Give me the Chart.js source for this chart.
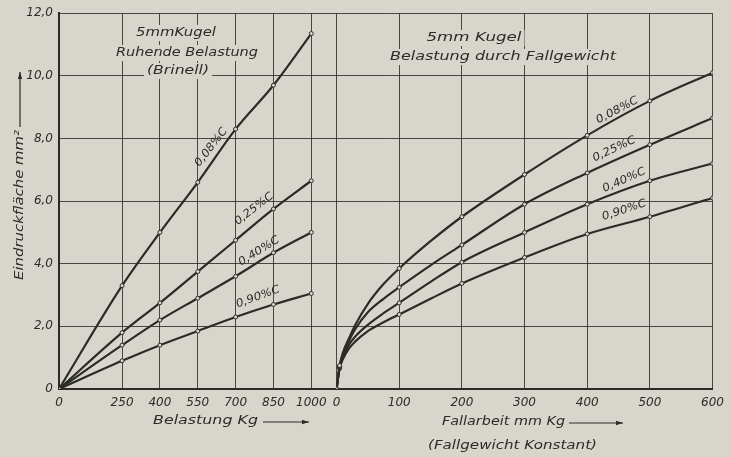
<!DOCTYPE html>
<html>
<head>
<meta charset="utf-8">
<script src="https://cdn.jsdelivr.net/npm/chart.js@4.4.1/dist/chart.umd.min.js"></script>
<style>
  html, body { margin: 0; padding: 0; background: #d8d6cc; }
  #wrap { width: 731px; height: 457px; position: relative; }
</style>
</head>
<body>
<div id="wrap"><canvas id="c" width="731" height="457"></canvas></div>
<script>
// Ruhende Belastung (Brinell): Belastung in kg
const staticLoad = [0, 250, 400, 550, 700, 850, 1000];
const static008 = [0, 3.3, 5.0, 6.6, 8.3, 9.7, 11.35];
const static025 = [0, 1.8, 2.75, 3.75, 4.75, 5.75, 6.65];
const static040 = [0, 1.4, 2.2, 2.9, 3.6, 4.35, 5.0];
const static090 = [0, 0.9, 1.4, 1.85, 2.3, 2.7, 3.05];

// Belastung durch Fallgewicht: Fallarbeit in mmKg
const dropWork = [0, 5, 10, 20, 30, 50, 75, 100, 150, 200, 300, 400, 500, 600];
const drop008 = [0, 0.75, 1.15, 1.62, 2.05, 2.72, 3.35, 3.85, 4.72, 5.5, 6.85, 8.1, 9.2, 10.1];
const drop025 = [0, 0.72, 1.1, 1.55, 1.92, 2.45, 2.88, 3.25, 3.95, 4.6, 5.9, 6.9, 7.8, 8.65];
const drop040 = [0, 0.7, 1.0, 1.42, 1.68, 2.05, 2.42, 2.75, 3.42, 4.05, 5.0, 5.9, 6.65, 7.2];
const drop090 = [0, 0.66, 0.95, 1.3, 1.52, 1.85, 2.13, 2.38, 2.88, 3.37, 4.2, 4.95, 5.5, 6.1];
// measured points that carry a marker
const dropMarked = [0, 5, 100, 200, 300, 400, 500, 600];

const carbonLabels = ['0,08%C', '0,25%C', '0,40%C', '0,90%C'];
const loadTicks = [0, 250, 400, 550, 700, 850, 1000];
const workTicks = [0, 100, 200, 300, 400, 500, 600];
const areaTicks = [0, 2, 4, 6, 8, 10, 12];

const BG = '#d8d6cc';
const INK = '#2b2b28';
const GRID = 'rgba(45,45,42,0.85)';
const FONT = '"DejaVu Sans", "Liberation Sans", sans-serif';

function seriesPoints(xs, ys) { return xs.map((x, i) => ({ x, y: ys[i] })); }

const lineStyle = {
  borderColor: INK,
  borderWidth: 2.2,
  pointBackgroundColor: BG,
  pointBorderColor: INK,
  pointBorderWidth: 1,
  fill: false,
  cubicInterpolationMode: 'monotone'
};

const datasets = [];
[static008, static025, static040, static090].forEach((arr, i) => {
  datasets.push(Object.assign({}, lineStyle, {
    label: 'Ruhend ' + carbonLabels[i],
    xAxisID: 'x1',
    data: seriesPoints(staticLoad, arr),
    pointRadius: 2
  }));
});
[drop008, drop025, drop040, drop090].forEach((arr, i) => {
  datasets.push(Object.assign({}, lineStyle, {
    label: 'Fallgewicht ' + carbonLabels[i],
    xAxisID: 'x2',
    data: seriesPoints(dropWork, arr),
    pointRadius: ctx => (ctx.raw && dropMarked.includes(ctx.raw.x)) ? 2 : 0
  }));
});

// curve labels placed in data coordinates: [axis, x, y, angle deg]
const curveLabelPos = [
  ['x1', 603, 7.72, -52], ['x1', 773, 5.75, -38], ['x1', 793, 4.4, -32], ['x1', 789, 2.94, -20],
  ['x2', 448, 8.9, -28], ['x2', 443, 7.66, -25], ['x2', 459, 6.67, -24], ['x2', 459, 5.71, -18]
];

function drawFitted(ctx, text, x, y, width, size, align) {
  ctx.save();
  ctx.font = 'italic ' + size + 'px ' + FONT;
  const w = ctx.measureText(text).width;
  const sx = width / w;
  ctx.translate(x, y);
  ctx.scale(sx, 1);
  ctx.textAlign = align || 'left';
  ctx.textBaseline = 'middle';
  ctx.fillStyle = INK;
  ctx.fillText(text, 0, 0);
  ctx.restore();
}

function knockoutText(ctx, text, cx, cy, width, size) {
  ctx.save();
  ctx.fillStyle = BG;
  ctx.fillRect(cx - width / 2 - 3, cy - size * 0.62, width + 6, size * 1.24);
  ctx.restore();
  drawFitted(ctx, text, cx, cy, width, size, 'center');
}

function arrow(ctx, x1, y1, x2, y2) {
  ctx.save();
  ctx.strokeStyle = INK;
  ctx.fillStyle = INK;
  ctx.lineWidth = 1.2;
  ctx.beginPath(); ctx.moveTo(x1, y1); ctx.lineTo(x2, y2); ctx.stroke();
  const a = Math.atan2(y2 - y1, x2 - x1);
  ctx.beginPath();
  ctx.moveTo(x2, y2);
  ctx.lineTo(x2 - 7 * Math.cos(a) + 2.2 * Math.sin(a), y2 - 7 * Math.sin(a) - 2.2 * Math.cos(a));
  ctx.lineTo(x2 - 7 * Math.cos(a) - 2.2 * Math.sin(a), y2 - 7 * Math.sin(a) + 2.2 * Math.cos(a));
  ctx.closePath(); ctx.fill();
  ctx.restore();
}

const annotations = {
  id: 'annotations',
  beforeDatasetsDraw(chart) {
    const ctx = chart.ctx;
    // panel headings
    knockoutText(ctx, '5mmKugel', 176, 33, 80, 13);
    knockoutText(ctx, 'Ruhende Belastung', 187, 53, 142, 13);
    knockoutText(ctx, '(Brinell)', 178, 71, 62, 13);
    knockoutText(ctx, '5mm Kugel', 474, 38, 95, 13);
    knockoutText(ctx, 'Belastung durch Fallgewicht', 503, 57, 226, 13);
  },
  afterDatasetsDraw(chart) {
    const ctx = chart.ctx;
    const y = chart.scales.y;
    curveLabelPos.forEach((p, i) => {
      const sx = chart.scales[p[0]];
      const px = sx.getPixelForValue(p[1]);
      const py = y.getPixelForValue(p[2]);
      ctx.save();
      ctx.translate(px, py);
      ctx.rotate(p[3] * Math.PI / 180);
      drawFitted(ctx, carbonLabels[i % 4], 0, 0, 46, 11, 'center');
      ctx.restore();
    });
    // axis titles
    drawFitted(ctx, 'Belastung Kg', 153, 421, 105, 13, 'left');
    arrow(ctx, 263, 422, 309, 422);
    drawFitted(ctx, 'Fallarbeit mm Kg', 442, 422, 123, 13, 'left');
    arrow(ctx, 569, 423, 623, 423);
    drawFitted(ctx, '(Fallgewicht Konstant)', 428, 446, 169, 13, 'left');
    // vertical title
    ctx.save();
    ctx.translate(20, 280);
    ctx.rotate(-Math.PI / 2);
    drawFitted(ctx, 'Eindruckfläche mm²', 0, 0, 150, 13, 'left');
    ctx.restore();
    arrow(ctx, 20, 127, 20, 72);
  }
};

const tickFont = { family: FONT, size: 12, style: 'italic' };

new Chart(document.getElementById('c'), {
  type: 'line',
  data: { datasets },
  options: {
    responsive: false,
    animation: false,
    devicePixelRatio: 1,
    layout: { padding: { top: 13, right: 15, left: 0, bottom: 0 } },
    plugins: { legend: { display: false }, tooltip: { enabled: false } },
    scales: {
      x1: {
        type: 'linear', position: 'bottom', stack: 'panels', stackWeight: 279,
        min: 0, max: 1100,
        afterBuildTicks: s => { s.ticks = loadTicks.map(v => ({ value: v })); },
        afterFit: s => { s.height = 68; },
        grid: { color: GRID, lineWidth: 1, drawTicks: false },
        border: { color: INK, width: 2 },
        ticks: { color: INK, font: tickFont, padding: 7, autoSkip: false, maxRotation: 0,
                 callback: v => String(v) }
      },
      x2: {
        type: 'linear', position: 'bottom', stack: 'panels', stackWeight: 378,
        min: 0, max: 600,
        afterBuildTicks: s => { s.ticks = workTicks.map(v => ({ value: v })); },
        afterFit: s => { s.height = 68; },
        grid: { color: GRID, lineWidth: 1, drawTicks: false },
        border: { color: INK, width: 2 },
        ticks: { color: INK, font: tickFont, padding: 7, autoSkip: false, maxRotation: 0,
                 callback: v => String(v) }
      },
      y: {
        type: 'linear', position: 'left', min: 0, max: 12,
        afterBuildTicks: s => { s.ticks = areaTicks.map(v => ({ value: v })); },
        afterFit: s => { s.width = 59; },
        grid: { color: GRID, lineWidth: 1, drawTicks: false },
        border: { color: INK, width: 2 },
        ticks: { color: INK, font: tickFont, padding: 6,
                 callback: v => v === 0 ? '0' : v.toFixed(1).replace('.', ',') }
      }
    }
  },
  plugins: [annotations]
});
</script>
</body>
</html>
